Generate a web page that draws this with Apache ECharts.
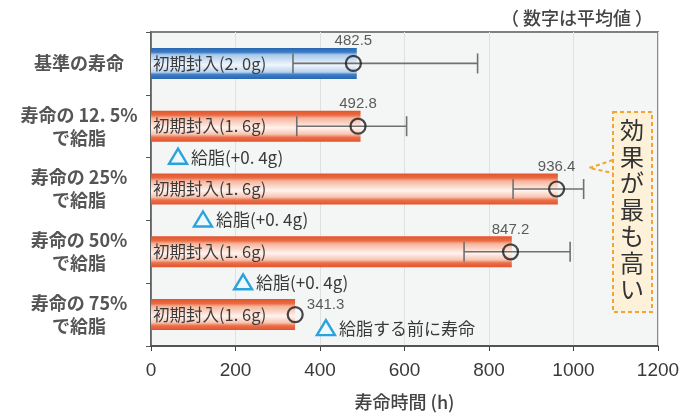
<!DOCTYPE html>
<html>
<head>
<meta charset="utf-8">
<script src="https://cdn.jsdelivr.net/npm/echarts@6/dist/echarts.min.js"></script>
<style>
  html, body { margin: 0; padding: 0; background: #fff; }
  #chart { width: 694px; height: 416px; }
</style>
</head>
<body>
<div id="chart"></div>
<script>
const categories = ['基準の寿命', '寿命の 12. 5%\nで給脂', '寿命の 25%\nで給脂', '寿命の 50%\nで給脂', '寿命の 75%\nで給脂']
const barLabels = ['初期封入(2. 0g)', '初期封入(1. 6g)', '初期封入(1. 6g)', '初期封入(1. 6g)', '初期封入(1. 6g)']
const barLength = [487, 496, 963, 854, 341]
const meanPos = [479, 490, 960, 851, 341.3]
const meanText = ['482.5', '492.8', '936.4', '847.2', '341.3']
const errLow = [336, 345, 857, 741, null]
const errHigh = [773, 605, 1024, 992, null]
const greaseAt = [64, 123, 218, 414]
const greaseText = ['給脂(+0. 4g)', '給脂(+0. 4g)', '給脂(+0. 4g)', '給脂する前に寿命']
const xTicks = [0, 200, 400, 600, 800, 1000, 1200]

const cjk = '"Noto Sans CJK JP", "Noto Sans", sans-serif'
const num = '"Liberation Sans", Arial, sans-serif'

const blueFill = new echarts.graphic.LinearGradient(0, 0, 0, 1, [
  { offset: 0, color: '#2a66b0' },
  { offset: 0.14, color: '#3b7cc6' },
  { offset: 0.22, color: '#a9c8ea' },
  { offset: 0.55, color: '#f1f6fc' },
  { offset: 0.78, color: '#b9d2ee' },
  { offset: 0.86, color: '#3f7fc8' },
  { offset: 1, color: '#2a66b0' }
])
const orangeFill = new echarts.graphic.LinearGradient(0, 0, 0, 1, [
  { offset: 0, color: '#e2542c' },
  { offset: 0.14, color: '#ea6a42' },
  { offset: 0.24, color: '#f6b49c' },
  { offset: 0.55, color: '#fff3ee' },
  { offset: 0.76, color: '#f8c4b0' },
  { offset: 0.86, color: '#ec6e48' },
  { offset: 1, color: '#e2542c' }
])

const myChart = echarts.init(document.getElementById('chart'))

const option = {
  animation: false,
  textStyle: { fontFamily: cjk },
  title: {
    text: '（ 数字は平均値 ）',
    right: 36,
    top: 4,
    textStyle: { fontFamily: cjk, fontSize: 18, fontWeight: 500, color: '#444' }
  },
  grid: {
    left: 151,
    right: 36,
    top: 32,
    bottom: 62,
    show: true,
    backgroundColor: '#f4f6f6',
    borderColor: '#808080',
    borderWidth: 1.8
  },
  xAxis: {
    type: 'value',
    min: 0,
    max: 1200,
    interval: 200,
    name: '寿命時間 (h)',
    nameLocation: 'middle',
    nameGap: 47,
    nameTextStyle: { fontFamily: cjk, fontSize: 18, fontWeight: 500, color: '#444' },
    axisLine: { show: true, lineStyle: { color: '#444', width: 1.5 } },
    axisTick: { show: true, length: 5, lineStyle: { color: '#444' } },
    axisLabel: {
      fontFamily: num, fontSize: 19, color: '#3a3a3a', margin: 15,
      formatter: v => xTicks.includes(v) ? String(v) : ''
    },
    splitLine: { show: true, lineStyle: { color: '#dde1e2', width: 1 } }
  },
  yAxis: {
    type: 'category',
    inverse: true,
    data: categories,
    axisLine: { show: true, lineStyle: { color: '#555', width: 1.5 } },
    axisTick: { show: true, length: 5, lineStyle: { color: '#555' } },
    axisLabel: {
      align: 'center',
      margin: 72,
      fontFamily: cjk,
      fontSize: 18,
      fontWeight: 'bold',
      lineHeight: 23,
      color: '#555'
    }
  },
  series: [
    {
      type: 'bar',
      barWidth: 31,
      z: 2,
      data: barLength.map((v, i) => ({
        value: v,
        itemStyle: { color: i === 0 ? blueFill : orangeFill },
        label: {
          show: true,
          position: 'insideLeft',
          distance: 2,
          formatter: barLabels[i],
          fontFamily: cjk,
          fontSize: 16.5,
          color: '#3a3a3a'
        }
      }))
    },
    {
      type: 'custom',
      z: 3,
      renderItem: (params, api) => {
        const lo = api.value(0)
        const hi = api.value(1)
        const p1 = api.coord([lo, api.value(2)])
        const p2 = api.coord([hi, api.value(2)])
        const h = 10
        const style = { stroke: '#707070', lineWidth: 1.6 }
        return {
          type: 'group',
          children: [
            { type: 'line', shape: { x1: p1[0], y1: p1[1], x2: p2[0], y2: p2[1] }, style },
            { type: 'line', shape: { x1: p1[0], y1: p1[1] - h, x2: p1[0], y2: p1[1] + h }, style },
            { type: 'line', shape: { x1: p2[0], y1: p2[1] - h, x2: p2[0], y2: p2[1] + h }, style }
          ]
        }
      },
      data: errLow.map((lo, i) => [lo, errHigh[i], i]).filter(d => d[0] != null)
    },
    {
      type: 'scatter',
      z: 4,
      symbol: 'circle',
      symbolSize: 15,
      itemStyle: { color: 'rgba(0,0,0,0)', borderColor: '#1a1a1a', borderWidth: 2.2 },
      data: meanPos.map((v, i) => ({
        value: [v, i],
        label: {
          show: true,
          formatter: meanText[i],
          position: i === 4 ? 'right' : 'top',
          distance: i === 4 ? 3 : 6,
          offset: i === 4 ? [0, -10] : [0, 0],
          fontFamily: num,
          fontSize: 15,
          color: '#333'
        }
      }))
    },
    {
      // grease markers: triangle + note below each bar
      type: 'custom',
      z: 4,
      renderItem: (params, api) => {
        const idx = params.dataIndex
        const p = api.coord([api.value(0), api.value(1)])
        const cx = p[0]
        const cy = p[1] + (idx === 3 ? 13 : 30)
        return {
          type: 'group',
          children: [
            {
              type: 'polygon',
              shape: { points: [[cx, cy - 7.5], [cx - 9, cy + 7.5], [cx + 9, cy + 7.5]] },
              style: { fill: '#eef8fd', stroke: '#2aa3dd', lineWidth: 2.4 }
            },
            {
              type: 'text',
              x: cx + 13,
              y: cy + 1,
              style: {
                text: greaseText[idx],
                fontFamily: cjk,
                fontSize: 17,
                fill: '#3a3a3a',
                align: 'left',
                verticalAlign: 'middle'
              }
            }
          ]
        }
      },
      data: greaseAt.map((v, i) => [v, i + 1])
    }
  ],
  graphic: [
    {
      type: 'rect',
      shape: { x: 613, y: 112, width: 39, height: 200 },
      style: { fill: '#fdf2d9', stroke: '#f0a534', lineWidth: 2, lineDash: [4, 3] },
      z: 10
    },
    {
      type: 'polyline',
      shape: { points: [[613, 160], [589, 168], [613, 173]] },
      style: { fill: null, stroke: '#f0a534', lineWidth: 2, lineDash: [4, 3] },
      z: 10
    },
    {
      type: 'text',
      x: 632,
      y: 117,
      style: {
        text: '効\n果\nが\n最\nも\n高\nい',
        fontFamily: cjk,
        fontSize: 24,
        lineHeight: 26.5,
        fill: '#333',
        align: 'center',
        verticalAlign: 'top'
      },
      z: 11
    }
  ]
}

myChart.setOption(option)
</script>
</body>
</html>
